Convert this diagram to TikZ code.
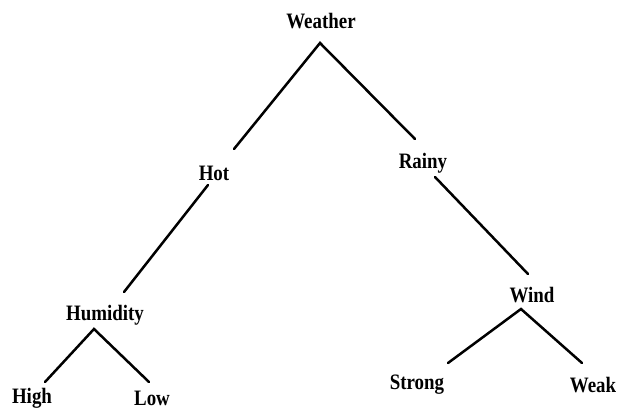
\documentclass[tikz,border=0pt]{standalone}
\usepackage{fontspec}
\setmainfont{Liberation Serif}
\begin{document}
\begin{tikzpicture}[x=1pt,y=-1pt,
  lbl/.style={inner sep=0pt, font=\fontsize{22}{22}\selectfont\bfseries},
  edge/.style={line width=2.5pt, line cap=round}]
\useasboundingbox (0,0) rectangle (618,410);
\node[lbl] (weather) at (321,21) {\scalebox{0.86}[1]{Weather}};
\node[lbl] (hot) at (214,173) {\scalebox{0.86}[1]{Hot}};
\node[lbl] (rainy) at (423,163) {\scalebox{0.86}[1]{Rainy}};
\node[lbl] (humidity) at (105,315) {\scalebox{0.86}[1]{Humidity}};
\node[lbl] (wind) at (532,295) {\scalebox{0.86}[1]{Wind}};
\node[lbl] (high) at (32,398) {\scalebox{0.86}[1]{High}};
\node[lbl] (low) at (152,398) {\scalebox{0.86}[1]{Low}};
\node[lbl] (strong) at (417,385) {\scalebox{0.86}[1]{Strong}};
\node[lbl] (weak) at (593,385) {\scalebox{0.86}[1]{Weak}};
% connector ends
\coordinate (wapex) at (320,43);
\coordinate (hotup) at (234,149);
\coordinate (rainyup) at (415,139);
\coordinate (hotdown) at (208,185);
\coordinate (humup) at (124,292);
\coordinate (rainydown) at (435,177);
\coordinate (windup) at (528,274);
\coordinate (humapex) at (94,329);
\coordinate (highup) at (45,382);
\coordinate (lowup) at (149,382);
\coordinate (windapex) at (521,309);
\coordinate (strongup) at (448,363);
\coordinate (weakup) at (582,363);
\draw[edge] (hotup) -- (wapex) -- (rainyup);
\draw[edge] (hotdown) -- (humup);
\draw[edge] (rainydown) -- (windup);
\draw[edge] (highup) -- (humapex) -- (lowup);
\draw[edge] (strongup) -- (windapex) -- (weakup);
\end{tikzpicture}
\end{document}
